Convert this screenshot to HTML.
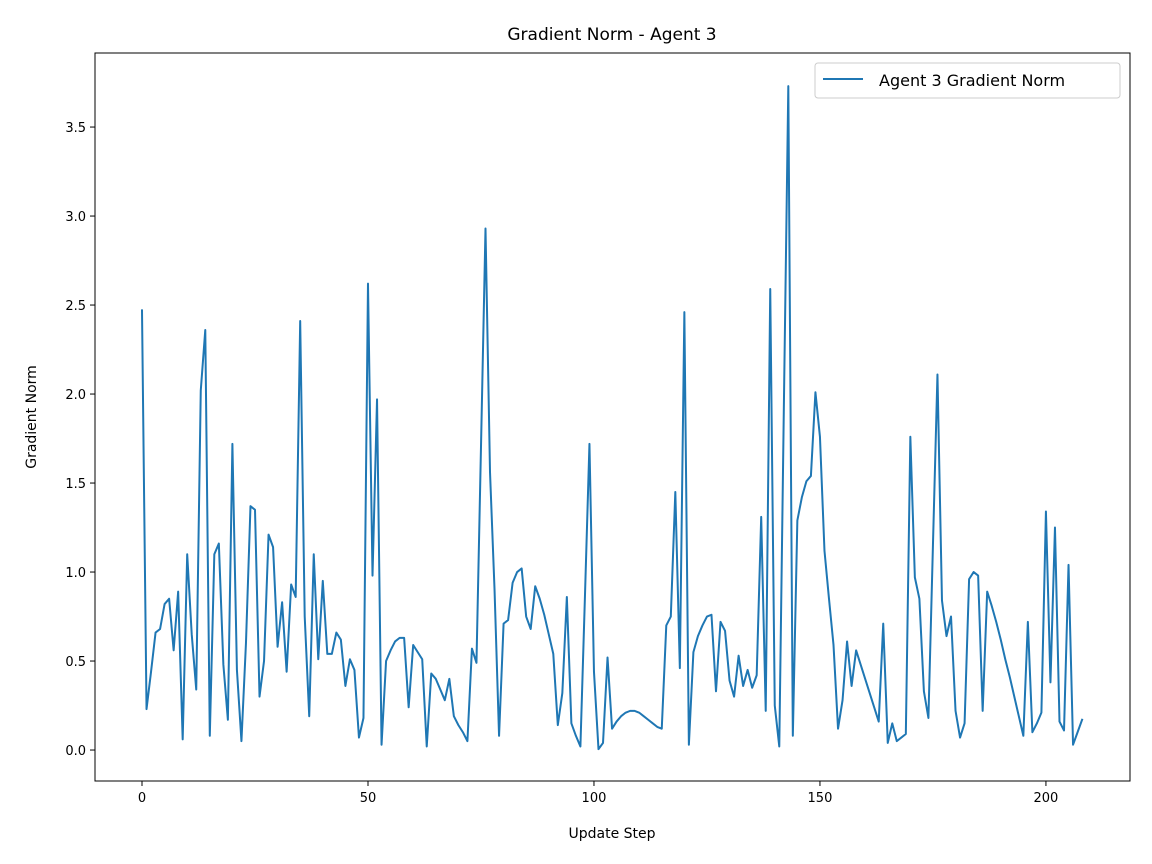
<!DOCTYPE html>
<html><head><meta charset="utf-8"><style>
html,body{margin:0;padding:0;background:#fff;}
svg{display:block;font-family:"DejaVu Sans","Liberation Sans",sans-serif;}
</style></head><body>
<svg id="chart" width="1152" height="864" viewBox="0 0 1152 864" xmlns="http://www.w3.org/2000/svg">
<rect width="1152" height="864" fill="#fff"/>
<text x="612" y="40" font-size="17" text-anchor="middle" fill="#000">Gradient Norm - Agent 3</text>
<g id="xticks"></g>
<g id="yticks"></g>
<path id="series" fill="none" stroke="#1f77b4" stroke-width="2" stroke-linejoin="round" stroke-linecap="square"/>
<rect x="95" y="53" width="1035" height="728" fill="none" stroke="#000" stroke-width="1"/>
<text x="612" y="838" font-size="14" text-anchor="middle" fill="#000">Update Step</text>
<text transform="translate(36,417) rotate(-90)" font-size="14" text-anchor="middle" fill="#000">Gradient Norm</text>
<g>
<rect x="815" y="63" width="305" height="35" rx="3" fill="#fff" stroke="#ccc" stroke-width="1"/>
<line x1="823" y1="79" x2="863" y2="79" stroke="#1f77b4" stroke-width="2"/>
<text x="879" y="86" font-size="16" fill="#000">Agent 3 Gradient Norm</text>
</g>
</svg>
<script>
const values = [2.47,0.23,0.44,0.66,0.68,0.82,0.85,0.56,0.89,0.06,
1.10,0.65,0.34,2.02,2.36,0.08,1.10,1.16,0.48,0.17,
1.72,0.45,0.05,0.60,1.37,1.35,0.30,0.50,1.21,1.14,
0.58,0.83,0.44,0.93,0.86,2.41,0.75,0.19,1.10,0.51,
0.95,0.54,0.54,0.66,0.62,0.36,0.51,0.45,0.07,0.18,
2.62,0.98,1.97,0.03,0.50,0.56,0.61,0.63,0.63,0.24,
0.59,0.55,0.51,0.02,0.43,0.40,0.34,0.28,0.40,0.19,
0.14,0.10,0.05,0.57,0.49,1.70,2.93,1.56,0.90,0.08,
0.71,0.73,0.94,1.00,1.02,0.75,0.68,0.92,0.85,0.76,
0.65,0.54,0.14,0.32,0.86,0.15,0.08,0.02,0.86,1.72,
0.44,0.005,0.04,0.52,0.12,0.16,0.19,0.21,0.22,0.22,
0.21,0.19,0.17,0.15,0.13,0.12,0.70,0.75,1.45,0.46,
2.46,0.03,0.55,0.64,0.70,0.75,0.76,0.33,0.72,0.67,
0.39,0.30,0.53,0.36,0.45,0.35,0.42,1.31,0.22,2.59,
0.25,0.02,1.90,3.73,0.08,1.29,1.42,1.51,1.54,2.01,
1.76,1.12,0.85,0.59,0.12,0.28,0.61,0.36,0.56,0.48,
0.40,0.32,0.24,0.16,0.71,0.04,0.15,0.05,0.07,0.09,
1.76,0.97,0.85,0.33,0.18,1.15,2.11,0.84,0.64,0.75,
0.22,0.07,0.15,0.96,1.00,0.98,0.22,0.89,0.81,0.72,
0.62,0.51,0.41,0.30,0.19,0.08,0.72,0.10,0.15,0.21,
1.34,0.38,1.25,0.16,0.11,1.04,0.03,0.10,0.17];
const xTickValues = [0,50,100,150,200];
const xTickLabels = ["0","50","100","150","200"];
const yTickValues = [0,0.5,1,1.5,2,2.5,3,3.5];
const yTickLabels = ["0.0","0.5","1.0","1.5","2.0","2.5","3.0","3.5"];

const NS = "http://www.w3.org/2000/svg";
const L = 95, R = 1130, T = 53, B = 781;
const xMin = -10.4, xMax = 218.6, yMin = -0.174, yMax = 3.916;
function xs(v){ return L + (v - xMin) / (xMax - xMin) * (R - L); }
function ys(v){ return B - (v - yMin) / (yMax - yMin) * (B - T); }

let d = "";
values.forEach((v,i)=>{ d += (i ? "L" : "M") + xs(i).toFixed(2) + "," + ys(v).toFixed(2); });
document.getElementById("series").setAttribute("d", d);

const xg = document.getElementById("xticks");
xTickValues.forEach((v,i)=>{
  const x = xs(v);
  const t = document.createElementNS(NS,"line");
  t.setAttribute("x1",x); t.setAttribute("x2",x); t.setAttribute("y1",B); t.setAttribute("y2",B+5);
  t.setAttribute("stroke","#000");
  
  
  xg.appendChild(t);
  const tx = document.createElementNS(NS,"text");
  tx.setAttribute("x",x); tx.setAttribute("y",B+21);
  tx.setAttribute("font-size","13"); tx.setAttribute("text-anchor","middle");
  tx.textContent = xTickLabels[i];
  
  
  xg.appendChild(tx);
});
const yg = document.getElementById("yticks");
yTickValues.forEach((v,i)=>{
  const y = ys(v);
  const t = document.createElementNS(NS,"line");
  t.setAttribute("x1",L-5); t.setAttribute("x2",L); t.setAttribute("y1",y); t.setAttribute("y2",y);
  t.setAttribute("stroke","#000");
  
  
  yg.appendChild(t);
  const tx = document.createElementNS(NS,"text");
  tx.setAttribute("x",L-9); tx.setAttribute("y",y+5);
  tx.setAttribute("font-size","13"); tx.setAttribute("text-anchor","end");
  tx.textContent = yTickLabels[i];
  
  
  yg.appendChild(tx);
});
</script>
</body></html>
